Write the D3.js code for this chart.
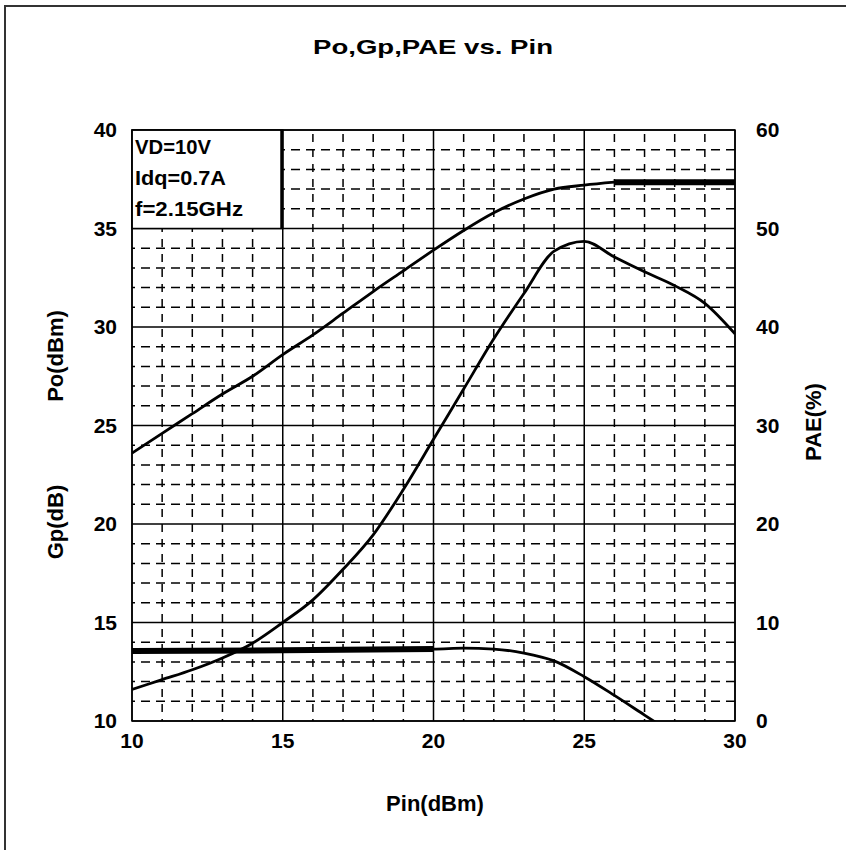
<!DOCTYPE html>
<html>
<head>
<meta charset="utf-8">
<script src="https://cdn.jsdelivr.net/npm/d3@7"></script>
<style>
  body { margin: 0; background: #fff; }
  text { font-family: "Liberation Sans", Arial, sans-serif; font-weight: bold; fill: #000; }
</style>
</head>
<body>
<svg id="chart" width="846" height="850"></svg>
<script>
// 数据
const pin = [10, 11, 12, 13, 14, 15, 16, 17, 18, 19, 20, 21, 22, 23, 24, 25, 26, 27, 28, 29, 30];
const po = [23.6, 24.6, 25.6, 26.6, 27.5, 28.6, 29.6, 30.7, 31.8, 32.85, 33.9, 34.9, 35.8, 36.5, 37.0, 37.2, 37.35];
const gp = [13.55, 13.55, 13.55, 13.55, 13.55, 13.55, 13.6, 13.65, 13.65, 13.65, 13.65, 13.7, 13.65, 13.45, 13.05, 12.25, 11.3, 10.3, 9.3];
const pae = [3.2, 4.2, 5.2, 6.4, 7.9, 10.0, 12.3, 15.4, 18.9, 23.5, 28.6, 33.7, 38.8, 43.4, 47.7, 48.7, 47.1, 45.6, 44.2, 42.4, 39.3];
// 粗线段（饱和段 / 线性段）
const poThickPin = [26, 30];
const poThick = [37.35, 37.35];
const gpThickPin = [10, 16, 20];
const gpThick = [13.55, 13.6, 13.65];

const xTicks = [10, 15, 20, 25, 30];
const yLeftTicks = [10, 15, 20, 25, 30, 35, 40];
const yRightTicks = [0, 10, 20, 30, 40, 50, 60];
const legendLines = ["VD=10V", "Idq=0.7A", "f=2.15GHz"];

const svg = d3.select("#chart");

// 外框
svg.append("path")
    .attr("d", "M5,850 V6 H846")
    .attr("fill", "none")
    .attr("stroke", "#333")
    .attr("stroke-width", 2);

const pLeft = 132, pRight = 735, pTop = 130, pBottom = 721;

const x = d3.scaleLinear().domain([10, 30]).range([pLeft, pRight]);
const yL = d3.scaleLinear().domain([10, 40]).range([pBottom, pTop]);
const yR = d3.scaleLinear().domain([0, 60]).range([pBottom, pTop]);

// 网格 - 虚线（次网格）
const minorX = d3.range(10, 31).filter(v => v % 5 !== 0);
const minorY = d3.range(10, 41).filter(v => v % 5 !== 0);

const grid = svg.append("g");
grid.selectAll(".mx")
    .data(minorX)
    .enter()
    .append("line")
    .attr("x1", d => x(d)).attr("x2", d => x(d))
    .attr("y1", pTop).attr("y2", pBottom)
    .attr("stroke", "#000")
    .attr("stroke-width", 1.5)
    .attr("stroke-dasharray", "8,7")
    .attr("stroke-dashoffset", -4);

grid.selectAll(".my")
    .data(minorY)
    .enter()
    .append("line")
    .attr("x1", pLeft).attr("x2", pRight)
    .attr("y1", d => yL(d)).attr("y2", d => yL(d))
    .attr("stroke", "#000")
    .attr("stroke-width", 1.5)
    .attr("stroke-dasharray", "9,6")
    .attr("stroke-dashoffset", -9);

// 主网格
grid.selectAll(".Mx")
    .data(xTicks)
    .enter()
    .append("line")
    .attr("x1", d => x(d)).attr("x2", d => x(d))
    .attr("y1", pTop).attr("y2", pBottom)
    .attr("stroke", "#000")
    .attr("stroke-width", 1.5);

grid.selectAll(".My")
    .data(yLeftTicks)
    .enter()
    .append("line")
    .attr("x1", pLeft).attr("x2", pRight)
    .attr("y1", d => yL(d)).attr("y2", d => yL(d))
    .attr("stroke", "#000")
    .attr("stroke-width", 1.5);

// 图例框
svg.append("rect")
    .attr("x", x(10)).attr("y", yL(40))
    .attr("width", x(15) - x(10)).attr("height", yL(35) - yL(40))
    .attr("fill", "#fff")
    .attr("stroke", "#000")
    .attr("stroke-width", 1.5);
svg.append("line")
    .attr("x1", x(15) - 1).attr("x2", x(15) - 1)
    .attr("y1", yL(40)).attr("y2", yL(35))
    .attr("stroke", "#000")
    .attr("stroke-width", 3);

svg.append("g")
    .selectAll("text")
    .data(legendLines)
    .enter()
    .append("text")
    .attr("x", x(10) + 3)
    .attr("y", (d, i) => yL(40) + 24 + i * 31)
    .attr("font-size", 21)
    .attr("textLength", (d, i) => [76, 91, 108][i])
    .attr("lengthAdjust", "spacingAndGlyphs")
    .text(d => d);

// 曲线
svg.append("clipPath").attr("id", "clip")
    .append("rect")
    .attr("x", pLeft).attr("y", pTop)
    .attr("width", pRight - pLeft).attr("height", pBottom - pTop);

const plot = svg.append("g").attr("clip-path", "url(#clip)");

function drawLine(xs, ys, yScale, width) {
    const line = d3.line()
        .x((d, i) => x(xs[i]))
        .y(d => yScale(d))
        .curve(d3.curveMonotoneX);
    plot.append("path")
        .datum(ys)
        .attr("d", line)
        .attr("fill", "none")
        .attr("stroke", "#000")
        .attr("stroke-width", width)
        .attr("stroke-linejoin", "round");
}

drawLine(pin, po, yL, 2.8);
drawLine(pin, gp, yL, 2.8);
drawLine(pin, pae, yR, 2.8);
drawLine(poThickPin, poThick, yL, 6);
drawLine(gpThickPin, gpThick, yL, 6);

// 绘图区边框
svg.append("rect")
    .attr("x", pLeft).attr("y", pTop)
    .attr("width", pRight - pLeft).attr("height", pBottom - pTop)
    .attr("fill", "none")
    .attr("stroke", "#000")
    .attr("stroke-width", 1.5);

// 坐标轴刻度文字
const fs = 21;
svg.append("g")
    .selectAll("text")
    .data(xTicks)
    .enter()
    .append("text")
    .attr("x", d => x(d))
    .attr("y", 748)
    .attr("text-anchor", "middle")
    .attr("font-size", fs)
    .text(d => d);

svg.append("g")
    .selectAll("text")
    .data(yLeftTicks)
    .enter()
    .append("text")
    .attr("x", 117)
    .attr("y", d => yL(d) + 7)
    .attr("text-anchor", "end")
    .attr("font-size", fs)
    .text(d => d);

svg.append("g")
    .selectAll("text")
    .data(yRightTicks)
    .enter()
    .append("text")
    .attr("x", 756)
    .attr("y", d => yR(d) + 7)
    .attr("text-anchor", "start")
    .attr("font-size", fs)
    .text(d => d);

// 标题和轴标题
svg.append("text")
    .attr("x", 433).attr("y", 54)
    .attr("text-anchor", "middle")
    .attr("font-size", 21)
    .attr("textLength", 240)
    .attr("lengthAdjust", "spacingAndGlyphs")
    .text("Po,Gp,PAE vs. Pin");

svg.append("text")
    .attr("x", 435).attr("y", 811)
    .attr("text-anchor", "middle")
    .attr("font-size", 22)
    .text("Pin(dBm)");

svg.append("text")
    .attr("transform", "translate(63,356) rotate(-90)")
    .attr("text-anchor", "middle")
    .attr("font-size", 22)
    .text("Po(dBm)");

svg.append("text")
    .attr("transform", "translate(63,522) rotate(-90)")
    .attr("text-anchor", "middle")
    .attr("font-size", 22)
    .text("Gp(dB)");

svg.append("text")
    .attr("transform", "translate(821,422) rotate(-90)")
    .attr("text-anchor", "middle")
    .attr("font-size", 22)
    .text("PAE(%)");
</script>
</body>
</html>
